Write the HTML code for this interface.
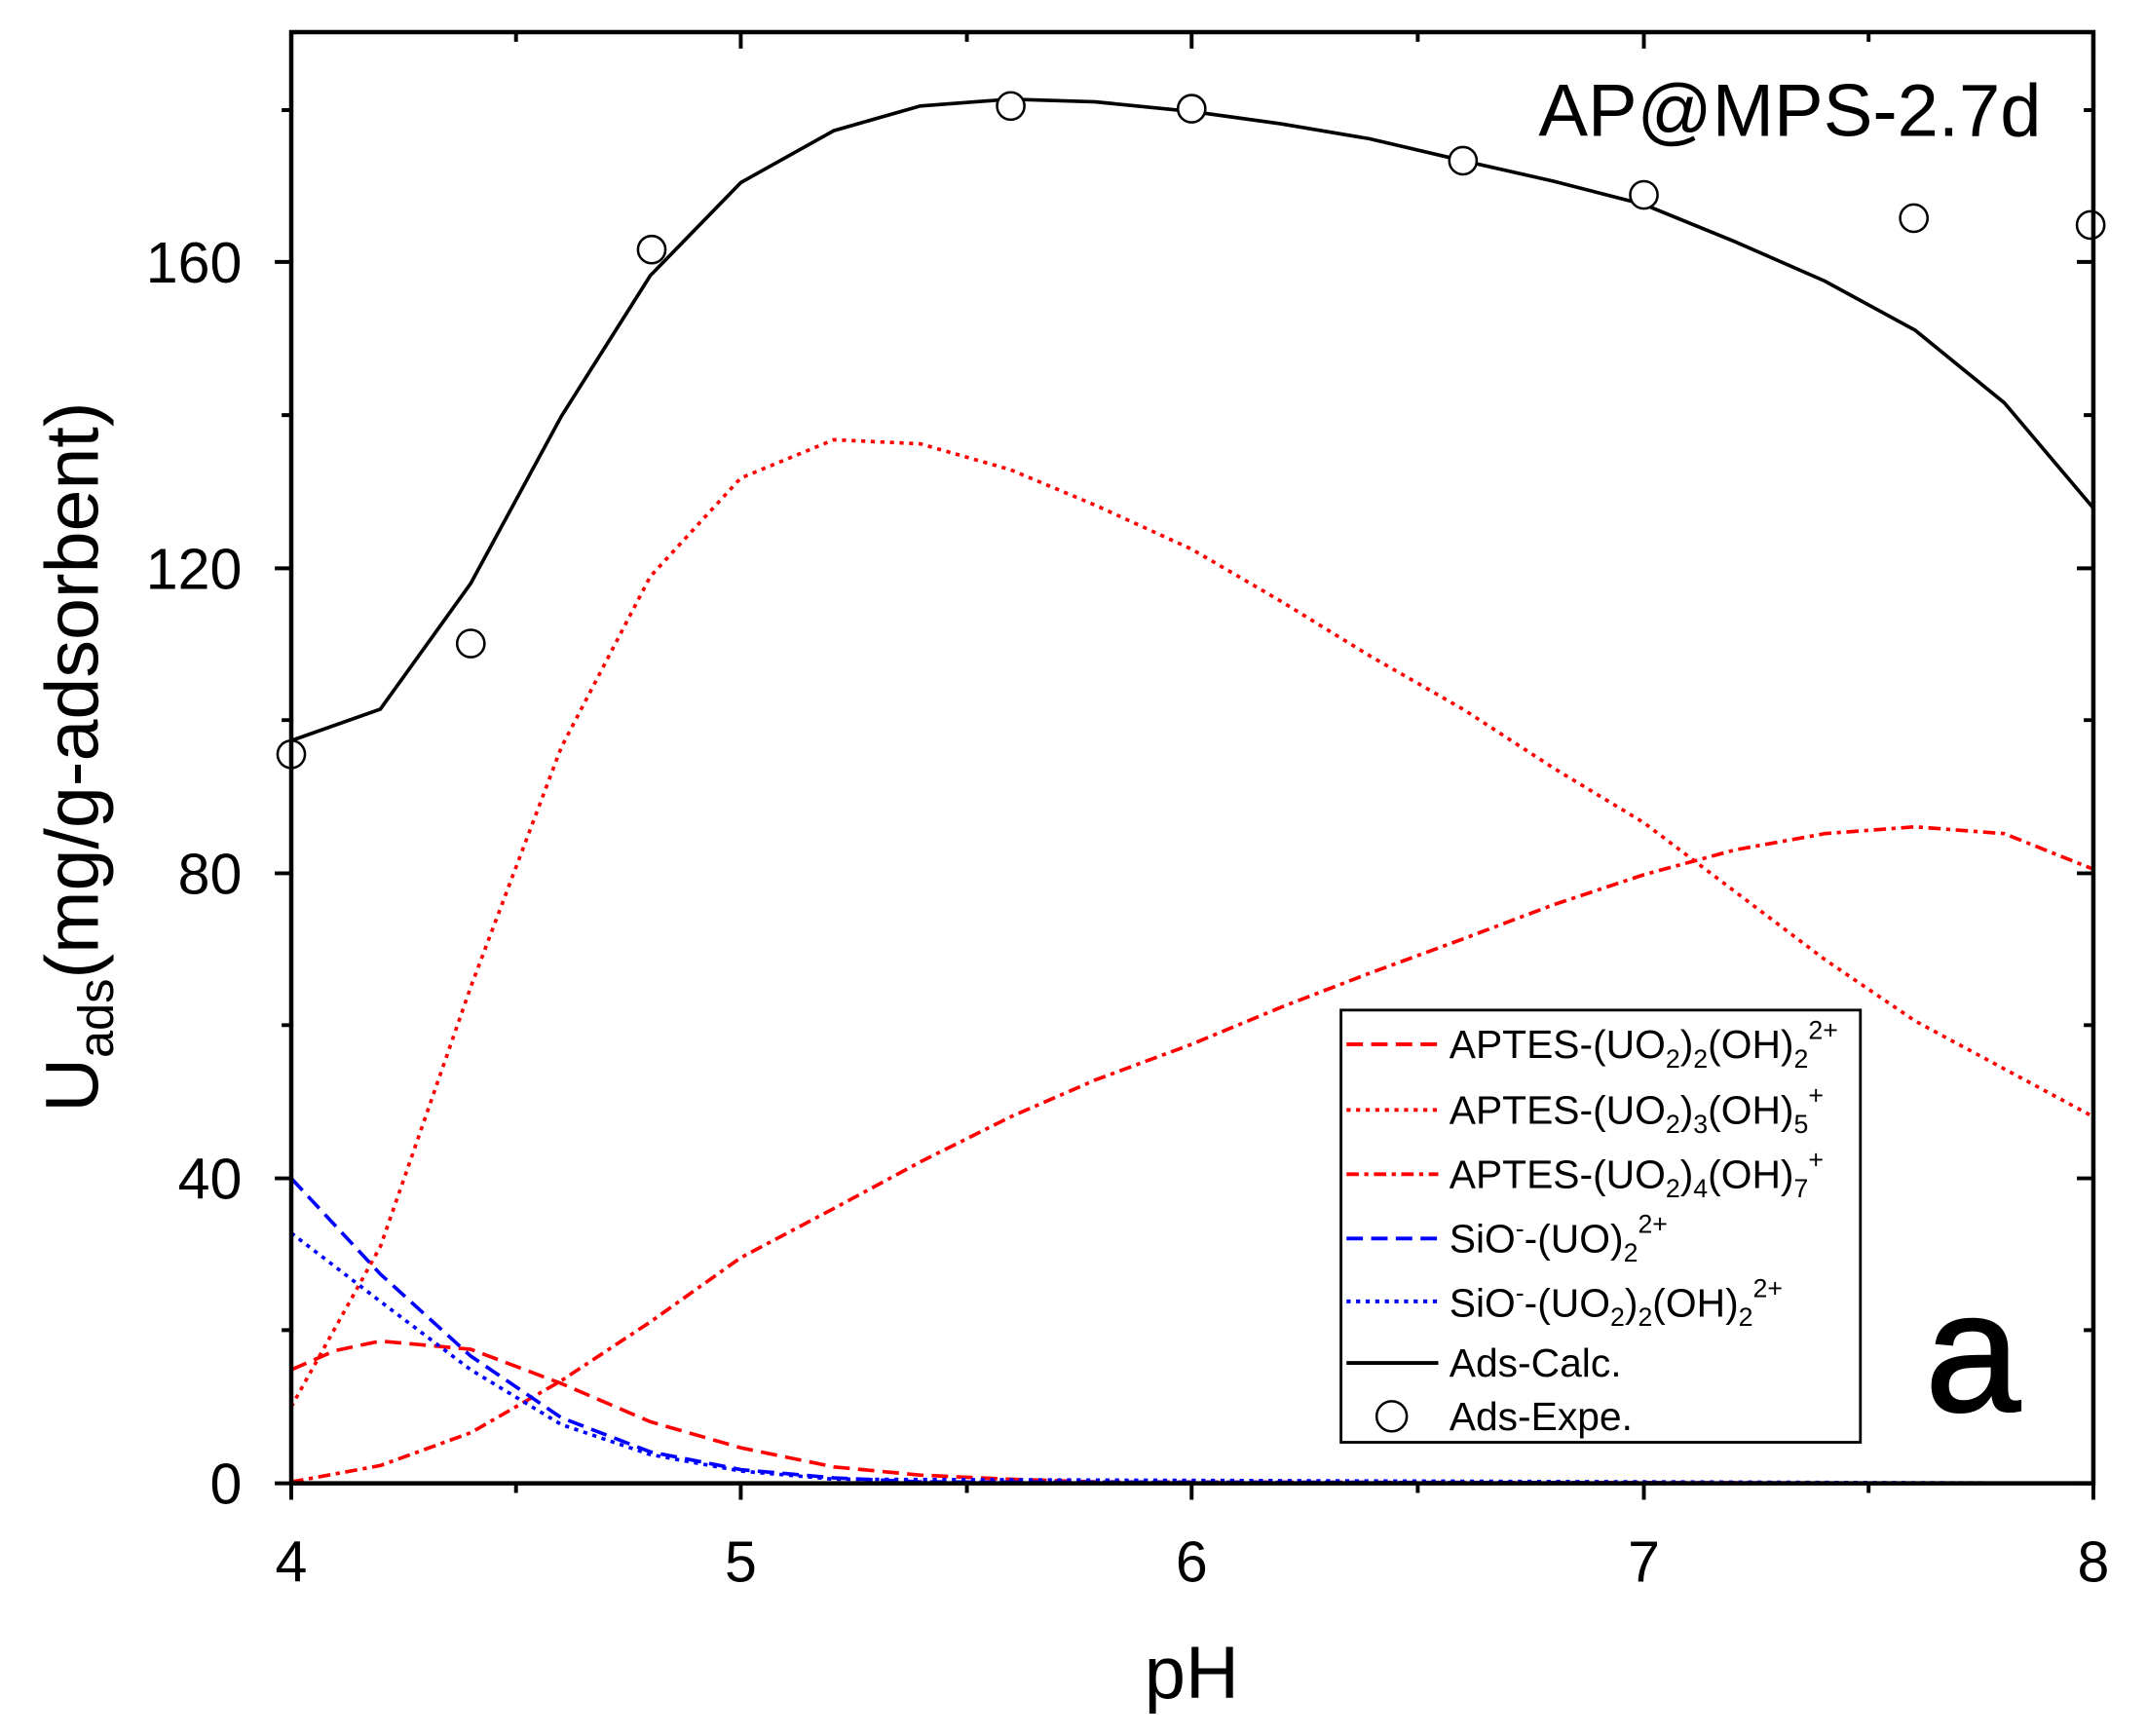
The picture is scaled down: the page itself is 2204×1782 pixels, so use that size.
<!DOCTYPE html>
<html><head><meta charset="utf-8"><style>
html,body{margin:0;padding:0;background:#fff;}
svg{display:block;}
text{font-family:"Liberation Sans",Arial,sans-serif;fill:#000;}
</style></head><body>
<svg width="2204" height="1782" viewBox="0 0 2204 1782" xmlns="http://www.w3.org/2000/svg">
<g transform="translate(-0.65,2.1) scale(1.4068,1.404)">
<!-- curves -->
<g fill="none" stroke-width="2.6">
<polyline stroke="#000" points="213,540 278,517 344,425 410,303 475,200 541,132 609,94 672,76 738,71 800,73 870,80 935,89 1000,100 1068,116 1134,131 1200,148 1266,175 1332,204 1398,240 1463,293 1528,370"/>
<polyline stroke="#f00" stroke-dasharray="3,4" points="213,1027 278,910 344,720 410,545 475,420 541,348 609,320 672,323 738,342 800,368 870,400 935,438 1000,478 1068,517 1134,560 1200,600 1266,650 1332,700 1398,745 1463,780 1528,815"/>
<polyline stroke="#f00" stroke-dasharray="9,4,3,4" points="213,1082 278,1070 344,1046 410,1008 475,965 541,918 609,882 672,848 738,815 800,788 870,762 935,735 1000,710 1068,685 1134,660 1200,638 1266,620 1332,608 1398,603 1463,608 1528,634"/>
<polyline stroke="#f00" stroke-dasharray="12,6" points="213,1000 245,986 278,979 344,985 410,1010 475,1038 541,1057 609,1071 672,1077 738,1080 800,1082 1528,1083"/>
<polyline stroke="#00f" stroke-dasharray="12,6" points="213,860 278,930 344,990 410,1035 475,1060 541,1073 609,1079 672,1082 1528,1083"/>
<polyline stroke="#00f" stroke-dasharray="3,4" points="213,900 278,950 344,1000 410,1040 475,1062 541,1074 609,1080 1528,1083"/>
</g>
<g fill="#fff" stroke="#000" stroke-width="1.8">
<circle cx="213" cy="550" r="10"/><circle cx="344" cy="469" r="10"/><circle cx="476" cy="181" r="10"/><circle cx="738" cy="76" r="10"/><circle cx="870" cy="78" r="10"/><circle cx="1068" cy="116" r="10"/><circle cx="1200" cy="141" r="10"/><circle cx="1397" cy="158" r="10"/><circle cx="1526" cy="163" r="10"/>
</g>
<!-- frame -->
<rect x="213" y="22" width="1315" height="1061" fill="none" stroke="#000" stroke-width="3.2"/>
<g stroke="#000" stroke-width="2.8">
<path d="M213,1083v12 M541,1083v12 M870,1083v12 M1200,1083v12 M1528,1083v12 M377,1083v7 M706,1083v7 M1035,1083v7 M1364,1083v7"/>
<path d="M213,22v12 M541,22v12 M870,22v12 M1200,22v12 M1528,22v12 M377,22v7 M706,22v7 M1035,22v7 M1364,22v7"/>
<path d="M213,1083h-12 M213,860h-12 M213,637h-12 M213,414h-12 M213,190h-12 M213,971h-7 M213,748h-7 M213,525h-7 M213,302h-7 M213,79h-7"/>
<path d="M1528,1083h-12 M1528,860h-12 M1528,637h-12 M1528,414h-12 M1528,190h-12 M1528,971h-7 M1528,748h-7 M1528,525h-7 M1528,302h-7 M1528,79h-7"/>
</g>
<g font-size="42" text-anchor="middle">
<text x="213" y="1155">4</text><text x="541" y="1155">5</text><text x="870" y="1155">6</text><text x="1200" y="1155">7</text><text x="1528" y="1155">8</text>
</g>
<g font-size="42" text-anchor="end">
<text x="177" y="1098">0</text><text x="177" y="875">40</text><text x="177" y="652">80</text><text x="177" y="429">120</text><text x="177" y="205">160</text>
</g>
<text x="870" y="1240" font-size="54" text-anchor="middle">pH</text>
<text transform="translate(72,552) rotate(-90)" font-size="55" text-anchor="middle">U<tspan font-size="36" dy="11">ads</tspan><tspan dy="-11">(mg/g-adsorbent)</tspan></text>
<text x="1490" y="98" font-size="54" text-anchor="end">AP@MPS-2.7d</text>
<text x="1440" y="1030" font-size="125" text-anchor="middle" stroke="#000" stroke-width="1.5">a</text>
<!-- legend -->
<rect x="979" y="737" width="379" height="316" fill="#fff" stroke="#000" stroke-width="2"/>
<g fill="none" stroke-width="2.8">
<line x1="983" y1="762" x2="1050" y2="762" stroke="#f00" stroke-dasharray="12,6"/>
<line x1="983" y1="810" x2="1050" y2="810" stroke="#f00" stroke-dasharray="3,4"/>
<line x1="983" y1="857" x2="1050" y2="857" stroke="#f00" stroke-dasharray="9,4,3,4"/>
<line x1="983" y1="904" x2="1050" y2="904" stroke="#00f" stroke-dasharray="12,6"/>
<line x1="983" y1="950" x2="1050" y2="950" stroke="#00f" stroke-dasharray="3,4"/>
<line x1="983" y1="995" x2="1050" y2="995" stroke="#000"/>
</g>
<circle cx="1016" cy="1034" r="11" fill="#fff" stroke="#000" stroke-width="1.8"/>
<g font-size="29">
<text x="1058" y="772">APTES-(UO<tspan font-size="19" dy="7">2</tspan><tspan dy="-7">)</tspan><tspan font-size="19" dy="7">2</tspan><tspan dy="-7">(OH)</tspan><tspan font-size="19" dy="7">2</tspan><tspan font-size="19" dy="-21">2+</tspan></text>
<text x="1058" y="820">APTES-(UO<tspan font-size="19" dy="7">2</tspan><tspan dy="-7">)</tspan><tspan font-size="19" dy="7">3</tspan><tspan dy="-7">(OH)</tspan><tspan font-size="19" dy="7">5</tspan><tspan font-size="19" dy="-21">+</tspan></text>
<text x="1058" y="867">APTES-(UO<tspan font-size="19" dy="7">2</tspan><tspan dy="-7">)</tspan><tspan font-size="19" dy="7">4</tspan><tspan dy="-7">(OH)</tspan><tspan font-size="19" dy="7">7</tspan><tspan font-size="19" dy="-21">+</tspan></text>
<text x="1058" y="914">SiO<tspan font-size="19" dy="-11">-</tspan><tspan dy="11">-(UO)</tspan><tspan font-size="19" dy="7">2</tspan><tspan font-size="19" dy="-21">2+</tspan></text>
<text x="1058" y="961">SiO<tspan font-size="19" dy="-11">-</tspan><tspan dy="11">-(UO</tspan><tspan font-size="19" dy="7">2</tspan><tspan dy="-7">)</tspan><tspan font-size="19" dy="7">2</tspan><tspan dy="-7">(OH)</tspan><tspan font-size="19" dy="7">2</tspan><tspan font-size="19" dy="-21">2+</tspan></text>
<text x="1058" y="1005">Ads-Calc.</text>
<text x="1058" y="1044">Ads-Expe.</text>
</g>
</g>
</svg>
</body></html>
